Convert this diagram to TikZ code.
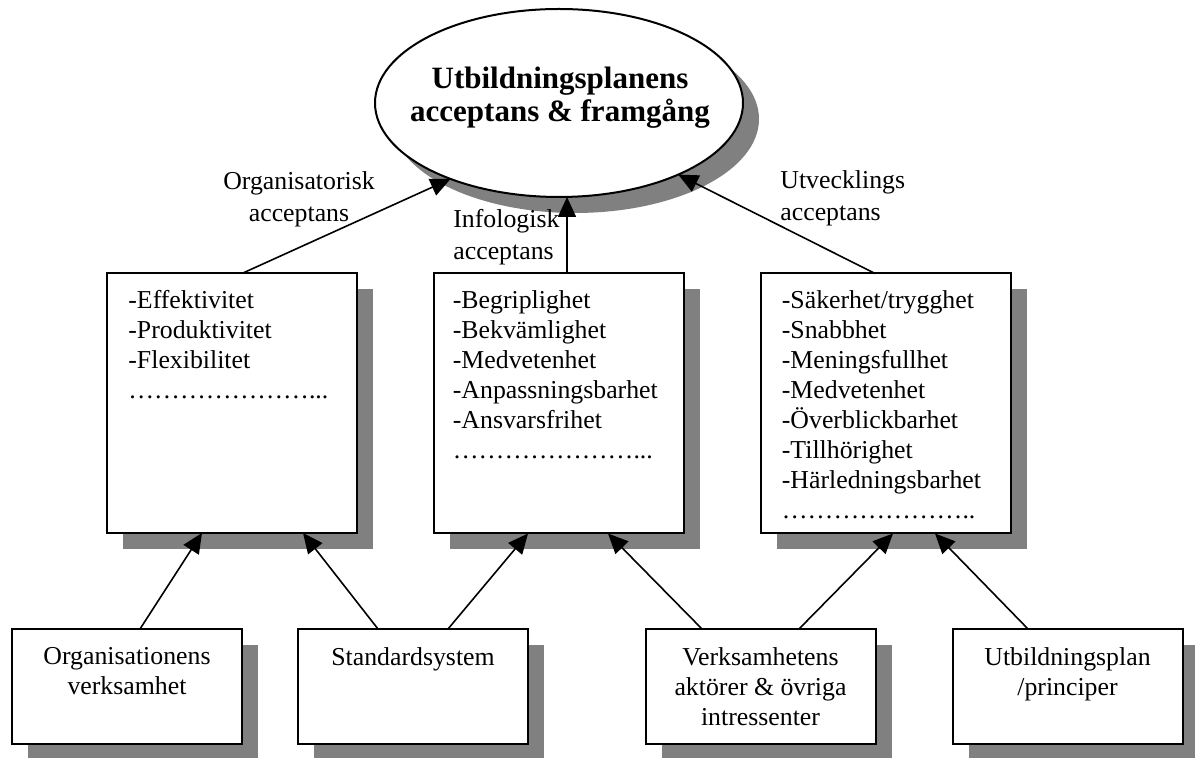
\documentclass[tikz,border=0pt]{standalone}
\usepackage{fontspec}
\setmainfont{Liberation Serif}
\usetikzlibrary{shapes.geometric,shadows,arrows.meta}

% a run of seven ellipsis characters
\newcommand\dotrun{\char"2026\char"2026\char"2026\char"2026\char"2026\char"2026\char"2026}

\begin{document}
\begin{tikzpicture}[x=0.5pt,y=-0.5pt,
  dropsh/.style={drop shadow={shadow xshift=8pt,shadow yshift=-8pt,opacity=1,fill=black!50}},
  box/.style={draw,line width=1pt,fill=white,dropsh,inner sep=0pt,outer sep=0pt},
  topbox/.style={box,minimum width=125pt,minimum height=130pt},
  basebox/.style={box,minimum width=115pt,minimum height=57.5pt},
  txt/.style={font=\fontsize{12.9}{15}\selectfont,inner sep=0pt},
  lbl/.style={font=\fontsize{12.9}{16}\selectfont,inner sep=0pt},
  list/.style={txt,align=left,anchor=north west},
  basetxt/.style={txt,align=center,anchor=north},
  arr/.style={line width=0.8pt,-{Triangle[length=10pt,width=9pt]}}
]
\useasboundingbox (0,0) rectangle (1195,758);

% goal ellipse
\node[draw,line width=1pt,fill=white,dropsh,ellipse,minimum width=184pt,minimum height=94pt,inner sep=0pt,outer sep=0pt] (goal) at (559,103) {};
\node[font=\fontsize{15.5}{16.5}\selectfont\bfseries,align=center,inner sep=0pt] (title) at (560,98) {Utbildningsplanens\\acceptans \& framgång};

% acceptance criteria boxes
\node[topbox] (orgq) at (232,403) {};
\node[topbox] (infq) at (558.5,403.5) {};
\node[topbox] (utvq) at (885.5,403.5) {};

\node[list] (orgl) at ([xshift=10.5pt,yshift=-8.5pt]orgq.north west)
  {-Effektivitet\\-Produktivitet\\-Flexibilitet\\\dotrun...};
\node[list] (infl) at ([xshift=9.5pt,yshift=-8.5pt]infq.north west)
  {-Begriplighet\\-Bekvämlighet\\-Medvetenhet\\-Anpassningsbarhet\\-Ansvarsfrihet\\\dotrun...};
\node[list] (utvl) at ([xshift=10.5pt,yshift=-8.5pt]utvq.north west)
  {-Säkerhet/trygghet\\-Snabbhet\\-Meningsfullhet\\-Medvetenhet\\-Överblickbarhet\\-Tillhörighet\\-Härledningsbarhet\\\dotrun..};

% source boxes
\node[basebox] (orgv) at (127,686.5) {};
\node[basebox] (std) at (413,686.5) {};
\node[basebox] (akt) at (760.5,686.5) {};
\node[basebox] (plan) at (1067.5,686.5) {};

\node[basetxt] (orgvt) at ([yshift=-9pt]orgv.north) {Organisationens\\verksamhet};
\node[basetxt] (stdt) at ([yshift=-9pt]std.north) {Standardsystem};
\node[basetxt] (aktt) at ([yshift=-9pt]akt.north) {Verksamhetens\\aktörer \& övriga\\intressenter};
\node[basetxt] (plant) at ([yshift=-9pt]plan.north) {Utbildningsplan\\/principer};

% connector labels
\node[lbl,align=center] (lorg) at (299,199) {Organisatorisk\\acceptans};
\node[lbl,align=left,anchor=west] (linf) at (453,237) {Infologisk\\acceptans};
\node[lbl,align=left,anchor=west] (lutv) at (780,198) {Utvecklings\\acceptans};

% arrows to the goal
\draw[arr] ([xshift=5.5pt]orgq.north) -- (goal.215);
\draw[arr] ([xshift=4.25pt]infq.north) -- ([xshift=4.25pt]infq.north |- goal.south);
\draw[arr] ([xshift=-5.25pt]utvq.north) -- (goal.329);

% arrows from the sources
\draw[arr] ([xshift=6.5pt]orgv.north) -- ([xshift=-15pt]orgq.south);
\draw[arr] ([xshift=-17.5pt]std.north) -- ([xshift=35.5pt]orgq.south);
\draw[arr] ([xshift=17.5pt]std.north) -- ([xshift=-15.25pt]infq.south);
\draw[arr] ([xshift=-29.25pt]akt.north) -- ([xshift=24.75pt]infq.south);
\draw[arr] ([xshift=19.25pt]akt.north) -- ([xshift=3.75pt]utvq.south);
\draw[arr] ([xshift=-19.75pt]plan.north) -- ([xshift=24.75pt]utvq.south);
\end{tikzpicture}
\end{document}
